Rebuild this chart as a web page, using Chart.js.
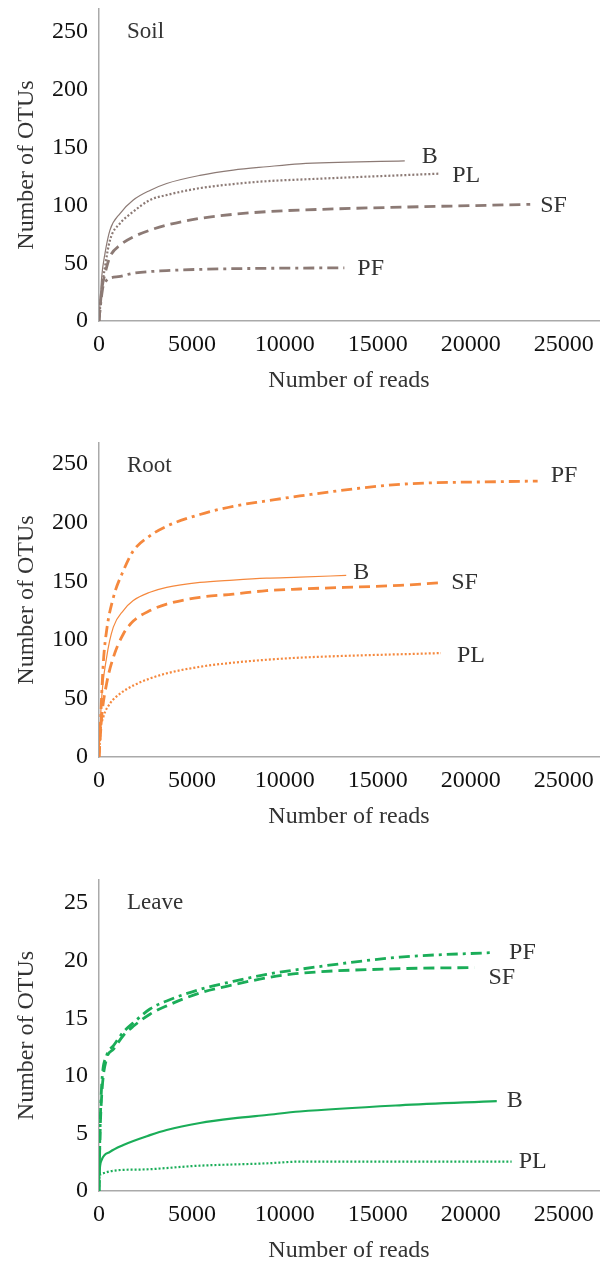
<!DOCTYPE html>
<html>
<head>
<meta charset="utf-8">
<script src="https://cdn.jsdelivr.net/npm/chart.js@4"></script>
<style>
  body { margin: 0; background: #fff; }
  .box { position: absolute; left: 0; width: 600px; }
</style>
</head>
<body>
<div class="box" style="top:0px;height:400px"><canvas id="soil"></canvas></div>
<div class="box" style="top:430px;height:406px"><canvas id="root"></canvas></div>
<div class="box" style="top:868px;height:402px"><canvas id="leave"></canvas></div>
<script>
// rarefaction curves: reads (x) vs OTUs (y)
const xTicks = [0, 5000, 10000, 15000, 20000, 25000];

// Soil
const soilB_x  = [0, 145, 323, 590, 1130, 1845, 2740, 3640, 5430, 7220, 9010, 10800, 16450];
const soilB_y  = [0, 38, 58.6, 78.7, 93, 104.7, 113, 119, 126, 130.6, 133.5, 136, 138.5];
const soilPL_x = [0, 145, 323, 590, 1130, 1845, 2740, 3640, 5430, 7220, 9010, 10800, 18300];
const soilPL_y = [0, 26.8, 47, 70, 84.5, 94.6, 104.7, 109, 115, 118.5, 121, 122.4, 127.5];
const soilSF_x = [0, 145, 323, 590, 1130, 1845, 2740, 3640, 5430, 7220, 9010, 10800, 23200];
const soilSF_y = [0, 26.8, 41, 55.6, 65.6, 72.8, 78.6, 83, 88.8, 92.3, 94.6, 96, 101];
const soilPF_x = [0, 55, 270, 1040, 1845, 3640, 5430, 9010, 13200];
const soilPF_y = [0, 10, 32.6, 38.4, 41.3, 43.6, 44.7, 45.6, 46];

// Root
const rootPF_x = [0, 230, 410, 770, 1310, 1845, 2740, 3640, 5430, 7220, 9010, 10800, 16180, 21560, 23600];
const rootPF_y = [0, 79.7, 108, 136, 159, 176, 188.8, 197, 207, 214, 218.5, 222.8, 232.7, 235, 235.5];
const rootB_x  = [0, 120, 410, 770, 1310, 1845, 2740, 3640, 5430, 7220, 9010, 10800, 13300];
const rootB_y  = [0, 45, 85, 110.8, 125, 133.5, 140.6, 144.8, 149, 151, 152.6, 153.5, 155];
const rootSF_x = [0, 150, 410, 770, 1310, 1845, 2740, 3640, 5430, 7220, 9010, 10800, 16180, 18300];
const rootSF_y = [0, 35, 62.7, 85, 105, 116, 125, 130.5, 136.3, 139, 142, 143.4, 146.5, 148.6];
const rootPL_x = [0, 80, 230, 590, 1130, 1845, 2740, 3640, 5430, 7220, 9010, 10800, 18400];
const rootPL_y = [0, 22, 34, 45.6, 54, 61, 67, 71.4, 77, 80.5, 83, 84.8, 88.7];

// Leave
const leavePF_x = [0, 50, 145, 410, 770, 1310, 1845, 2740, 3640, 5430, 7220, 9010, 10800, 16180, 21200];
const leavePF_y = [0, 4.9, 9.2, 11.75, 12.6, 13.8, 14.6, 15.8, 16.5, 17.5, 18.2, 18.8, 19.25, 20.3, 20.7];
const leaveSF_x = [0, 50, 145, 410, 770, 1310, 1845, 2740, 3640, 5430, 7220, 9010, 10800, 16180, 20200];
const leaveSF_y = [0, 4.5, 8.3, 11.5, 12.3, 13.5, 14.3, 15.35, 16.07, 17.2, 17.9, 18.5, 18.9, 19.3, 19.4];
const leaveB_x  = [0, 20, 145, 590, 1310, 2740, 3640, 5430, 7220, 9010, 10800, 16180, 21400];
const leaveB_y  = [0, 1.4, 2.7, 3.4, 4.0, 4.85, 5.3, 5.9, 6.3, 6.6, 6.9, 7.44, 7.8];
const leavePL_x = [0, 20, 1845, 5430, 9010, 10800, 22200];
const leavePL_y = [0, 1.4, 1.85, 2.2, 2.4, 2.55, 2.55];

const serif = "'Liberation Serif', 'Times New Roman', serif";

function pts(xs, ys) {
  return xs.map((x, i) => ({ x: x, y: ys[i] }));
}

const STYLES = {
  B:  { borderWidth: 1.2, borderDash: [] },
  PL: { borderWidth: 2.2, borderDash: [2, 2] },
  SF: { borderWidth: 2.8, borderDash: [11, 6] },
  PF: { borderWidth: 2.8, borderDash: [11, 5, 3, 5] }
};

// draws the series name next to the end of each curve, plus the panel name
const endLabels = {
  id: 'endLabels',
  afterDatasetsDraw(chart, args, opts) {
    const ctx = chart.ctx;
    ctx.save();
    ctx.font = '24px ' + serif;
    ctx.fillStyle = '#333';
    ctx.textBaseline = 'middle';
    ctx.textAlign = 'left';
    chart.data.datasets.forEach((ds, i) => {
      const meta = chart.getDatasetMeta(i);
      const last = meta.data[meta.data.length - 1];
      const off = ds.labelOffset;
      ctx.fillText(ds.label, last.x + off[0], last.y + off[1]);
    });
    if (opts.title) {
      ctx.font = '23px ' + serif;
      ctx.fillText(opts.title, chart.chartArea.left + 28, chart.chartArea.top + 23);
    }
    ctx.restore();
  }
};

function makeChart(id, title, color, series, yMax, yStep, padTop, bWidth) {
  new Chart(document.getElementById(id), {
    type: 'line',
    data: {
      datasets: series.map(s => ({
        label: s.name,
        data: pts(s.x, s.y),
        borderColor: color,
        backgroundColor: color,
        borderWidth: s.name === 'B' ? bWidth : STYLES[s.name].borderWidth,
        borderDash: STYLES[s.name].borderDash,
        borderCapStyle: 'butt',
        pointRadius: 0,
        fill: false,
        cubicInterpolationMode: 'monotone',
        labelOffset: s.off
      }))
    },
    plugins: [endLabels],
    options: {
      responsive: true,
      maintainAspectRatio: false,
      animation: false,
      layout: { padding: { top: padTop, right: 1, left: 0, bottom: 0 } },
      plugins: {
        legend: { display: false },
        tooltip: { enabled: false },
        endLabels: { title: title }
      },
      scales: {
        x: {
          type: 'linear',
          min: 0,
          max: 26900,
          afterBuildTicks: (scale) => {
            scale.ticks = xTicks.map(v => ({ value: v }));
          },
          afterFit: (scale) => {
            scale.height = 79;
            scale.paddingLeft = 0;
            scale.paddingRight = 0;
          },
          grid: { display: false, drawTicks: false },
          border: { display: true, color: '#aaaaaa', width: 1.5 },
          ticks: {
            color: '#111',
            padding: 9,
            maxRotation: 0,
            callback: (v) => String(v),
            font: { family: serif, size: 24 }
          },
          title: {
            display: true,
            text: 'Number of reads',
            color: '#333',
            padding: { top: 4, bottom: 5 },
            font: { family: serif, size: 24 }
          }
        },
        y: {
          min: 0,
          max: yMax,
          afterBuildTicks: (scale) => {
            const t = [];
            for (let v = 0; v <= yMax; v += yStep) t.push({ value: v });
            scale.ticks = t;
          },
          afterFit: (scale) => {
            scale.width = 99;
            scale.paddingTop = 0;
            scale.paddingBottom = 0;
          },
          grid: { display: false, drawTicks: false },
          border: { display: true, color: '#aaaaaa', width: 1.5 },
          ticks: {
            color: '#111',
            padding: 11,
            callback: (v) => String(v),
            font: { family: serif, size: 24 }
          },
          title: {
            display: true,
            text: 'Number of OTUs',
            color: '#333',
            padding: { top: 12, bottom: 4 },
            font: { family: serif, size: 24 }
          }
        }
      }
    }
  });
}

makeChart('soil', 'Soil', '#8c7a75', [
  { name: 'B',  x: soilB_x,  y: soilB_y,  off: [17, -4] },
  { name: 'PL', x: soilPL_x, y: soilPL_y, off: [13, 2] },
  { name: 'SF', x: soilSF_x, y: soilSF_y, off: [10, 1] },
  { name: 'PF', x: soilPF_x, y: soilPF_y, off: [13, 1] }
], 270, 50, 9, 1.2);

makeChart('root', 'Root', '#f5883d', [
  { name: 'PF', x: rootPF_x, y: rootPF_y, off: [13, -5] },
  { name: 'B',  x: rootB_x,  y: rootB_y,  off: [7, -3] },
  { name: 'SF', x: rootSF_x, y: rootSF_y, off: [12, 0] },
  { name: 'PL', x: rootPL_x, y: rootPL_y, off: [16, 3] }
], 268, 50, 13, 1.2);

makeChart('leave', 'Leave', '#1aad58', [
  { name: 'PF', x: leavePF_x, y: leavePF_y, off: [16, 0] },
  { name: 'SF', x: leaveSF_x, y: leaveSF_y, off: [14, 10] },
  { name: 'B',  x: leaveB_x,  y: leaveB_y,  off: [10, 0] },
  { name: 'PL', x: leavePL_x, y: leavePL_y, off: [7, 0] }
], 27, 5, 12, 2.2);
</script>
</body>
</html>
